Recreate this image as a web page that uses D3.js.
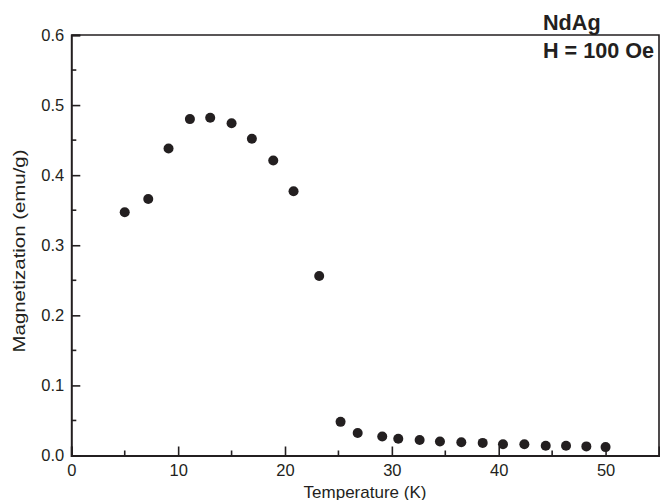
<!DOCTYPE html>
<html>
<head>
<meta charset="utf-8">
<script src="https://cdn.jsdelivr.net/npm/d3@7"></script>
<style>
  body { margin: 0; background: #fff; }
  text { font-family: "Liberation Sans", Arial, sans-serif; fill: #231f20; }
</style>
</head>
<body>
<div id="chart"></div>
<script>
var svgWidth = 660;
var svgHeight = 500;

// data
var temperature = [5.0, 7.2, 9.1, 11.1, 13.0, 15.0, 16.9, 18.9, 20.8, 23.2,
  25.2, 26.8, 29.1, 30.6, 32.6, 34.5, 36.5, 38.5, 40.4, 42.4, 44.4, 46.3, 48.2, 50.0];
var magnetization = [0.347, 0.366, 0.438, 0.480, 0.482, 0.474, 0.452, 0.421, 0.377, 0.256,
  0.048, 0.032, 0.027, 0.024, 0.022, 0.020, 0.019, 0.018, 0.016, 0.016, 0.014, 0.014, 0.013, 0.012];
var xTicks = [0, 10, 20, 30, 40, 50];
var xMinor = [5, 15, 25, 35, 45];
var yTicks = [0, 0.1, 0.2, 0.3, 0.4, 0.5, 0.6];
var yMinor = [0.05, 0.15, 0.25, 0.35, 0.45, 0.55];
var labels = ["NdAg", "H = 100 Oe"];

var margin = {top: 35, right: 1, bottom: 44.5, left: 71.3};
var width = svgWidth - margin.left - margin.right;
var height = svgHeight - margin.top - margin.bottom;
var ink = "#231f20";

var svg = d3.select("#chart")
  .append("svg")
  .attr("width", svgWidth)
  .attr("height", svgHeight);

var chartGroup = svg.append("g")
  .attr("transform", `translate(${margin.left}, ${margin.top})`);

var xScale = d3.scaleLinear().domain([0, 55]).range([0, width]);
var yScale = d3.scaleLinear().domain([0, 0.6]).range([height, 0]);

// frame top and right
chartGroup.append("path")
  .attr("d", `M0,0H${width}V${height}`)
  .attr("fill", "none")
  .attr("stroke", ink)
  .attr("stroke-width", 1.6);

// bottom axis, ticks pointing inward
var bottomAxis = d3.axisBottom(xScale).tickValues(xTicks).tickSize(-9).tickFormat(d3.format("d"));
var xAxis = chartGroup.append("g")
  .attr("transform", `translate(0, ${height})`)
  .call(bottomAxis);
xMinor.forEach(function(v) {
  xAxis.append("line")
    .attr("x1", xScale(v)).attr("x2", xScale(v))
    .attr("y1", 0).attr("y2", -5)
    .attr("stroke", ink).attr("stroke-width", 1.6);
});

var leftAxis = d3.axisLeft(yScale).tickValues(yTicks).tickSize(-9).tickFormat(d3.format(".1f"));
var yAxis = chartGroup.append("g").call(leftAxis);
yMinor.forEach(function(v) {
  yAxis.append("line")
    .attr("x1", 0).attr("x2", 5)
    .attr("y1", yScale(v)).attr("y2", yScale(v))
    .attr("stroke", ink).attr("stroke-width", 1.6);
});

[xAxis, yAxis].forEach(function(ax) {
  ax.select(".domain").attr("stroke", ink).attr("stroke-width", 2);
  ax.selectAll(".tick line").attr("stroke", ink).attr("stroke-width", 1.6);
  ax.selectAll(".tick text")
    .attr("font-size", 16.5)
    .attr("font-family", "Liberation Sans, Arial, sans-serif")
    .attr("fill", ink);
});
xAxis.selectAll(".tick text").attr("dy", "0.71em").attr("y", 8.5);
yAxis.selectAll(".tick text").attr("x", -7);

// points
chartGroup.selectAll("circle")
  .data(temperature)
  .enter()
  .append("circle")
  .attr("cx", function(d) { return xScale(d); })
  .attr("cy", function(d, i) { return yScale(magnetization[i]); })
  .attr("r", 5)
  .attr("fill", ink);

// axis titles
svg.append("text")
  .attr("x", 365)
  .attr("y", 497.5)
  .attr("text-anchor", "middle")
  .attr("font-size", 17)
  .text("Temperature (K)");

svg.append("text")
  .attr("transform", "translate(25, 251) rotate(-90) scale(1.26, 1)")
  .attr("text-anchor", "middle")
  .attr("font-size", 16.2)
  .text("Magnetization (emu/g)");

// sample label
svg.selectAll(".label")
  .data(labels)
  .enter()
  .append("text")
  .attr("class", "label")
  .attr("x", 543)
  .attr("y", function(d, i) { return 29.5 + i * 28.8; })
  .attr("font-size", 21.6)
  .attr("font-weight", "bold")
  .text(function(d) { return d; });
</script>
</body>
</html>
